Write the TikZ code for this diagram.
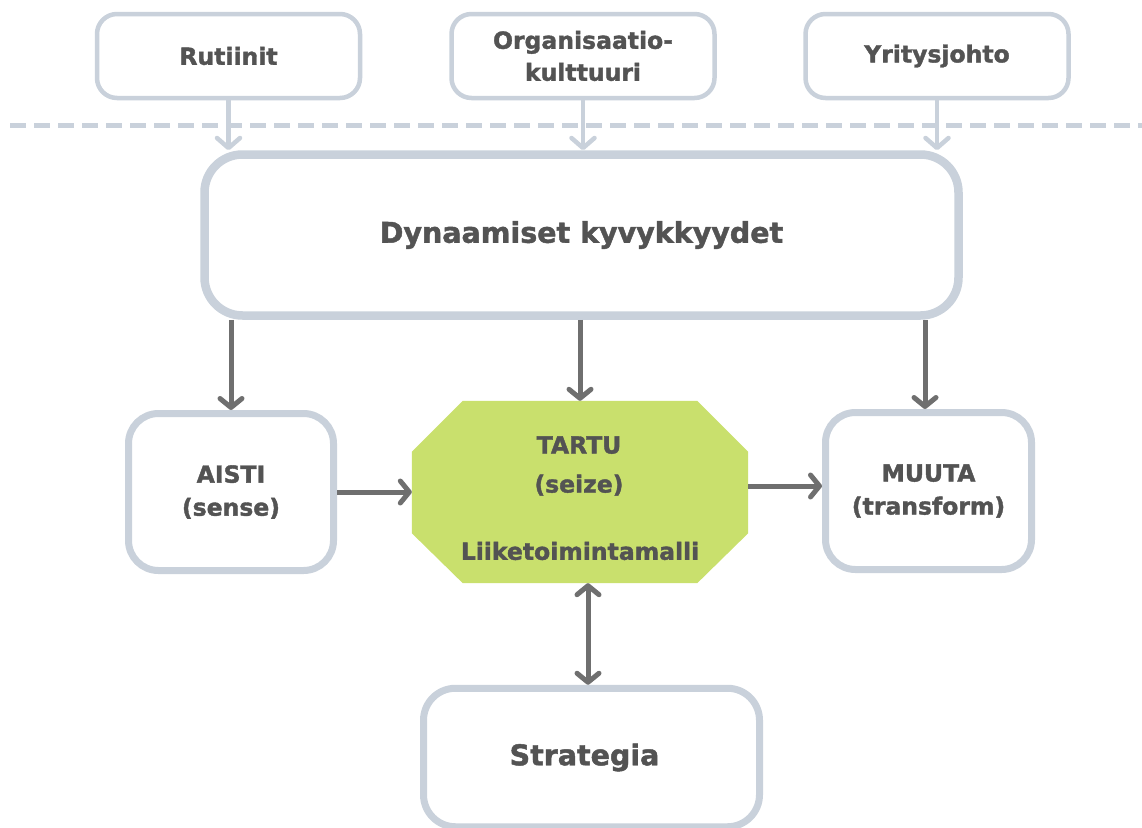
\documentclass[tikz,border=0pt]{standalone}
\usepackage{fontspec}
\setmainfont{DejaVu Sans}[BoldFeatures={FakeBold=1.6}]
\usetikzlibrary{arrows.meta}
\definecolor{boxline}{HTML}{C9D1DB}
\definecolor{arrowgray}{HTML}{6F6F6F}
\definecolor{txtgray}{HTML}{535353}
\definecolor{leaf}{HTML}{C9E06D}
\tikzset{
  topbox/.style={draw=boxline, line width=4.5pt, rounded corners=20pt, minimum width=263pt, minimum height=84pt, inner sep=0pt, align=center, text=txtgray, font=\fontsize{23.5}{32}\selectfont\bfseries},
  midbox/.style={draw=boxline, line width=7pt, rounded corners=30pt, minimum width=205pt, minimum height=157pt, inner sep=0pt, align=center, text=txtgray, font=\fontsize{23.5}{33}\selectfont\bfseries},
  bigbox/.style={draw=boxline, line width=8.5pt, rounded corners=38pt, inner sep=0pt, align=center, text=txtgray, font=\fontsize{28.5}{34}\selectfont\bfseries},
  lbl/.style={text=txtgray, align=center, inner sep=0pt, font=\fontsize{23.5}{39}\selectfont\bfseries},
  lightarrow/.style={draw=boxline, line width=4.5pt, -{Straight Barb[length=10pt,width=23pt,round]}},
  darkarrow/.style={draw=arrowgray, line width=5pt, -{Straight Barb[length=9pt,width=22pt,round]}},
  dblarrow/.style={draw=arrowgray, line width=5pt, {Straight Barb[length=9pt,width=22pt,round]}-{Straight Barb[length=9pt,width=22pt,round]}},
  sepline/.style={draw=boxline, line width=5pt, dash pattern=on 16pt off 8pt}
}
\begin{document}
\begin{tikzpicture}[x=1pt,y=-1pt]
\useasboundingbox[fill=white] (0,0) rectangle (1142,827);
% separator
\coordinate (sepL) at (10,125);
\coordinate (sepR) at (1150,125);
\draw[sepline] (sepL) -- (sepR);
% top boxes
\node[topbox] (rut) at (228.5,56) {Rutiinit};
\node[topbox] (org) at (583,56) {Organisaatio-\\kulttuuri};
\node[topbox] (yri) at (937,56) {Yritysjohto};
% dynamic capabilities
\node[bigbox, minimum width=754pt, minimum height=161pt] (dyn) at (581.5,235) {Dynaamiset kyvykkyydet};
% middle row
\node[midbox] (aisti) at (231,492) {AISTI\\(sense)};
\node[midbox, minimum width=206pt] (muuta) at (928.5,491) {MUUTA\\(transform)};
\node[minimum width=336pt, minimum height=182pt, inner sep=0pt] (oct) at (580,492) {};
\fill[leaf] ([xshift=51pt]oct.north west) -- ([xshift=-51pt]oct.north east)
  -- ([yshift=-51pt]oct.north east) -- ([yshift=50pt]oct.south east)
  -- ([xshift=-51pt]oct.south east) -- ([xshift=51pt]oct.south west)
  -- ([yshift=50pt]oct.south west) -- ([yshift=-51pt]oct.north west) -- cycle;
\node[lbl] (tartu) at (579,466) {TARTU\\(seize)};
\node[lbl] (liike) at (580,551) {Liiketoimintamalli};
% strategy
\node[bigbox, line width=7pt, rounded corners=32pt, minimum width=336pt, minimum height=138.5pt] (strat) at (591.5,757.5) {Strategia\hspace*{14pt}};
% light arrows
\draw[lightarrow] (rut.south) -- (rut.south |- dyn.north);
\draw[lightarrow] (org.south) -- (org.south |- dyn.north);
\draw[lightarrow] (yri.south) -- (yri.south |- dyn.north);
% dark arrows
\draw[darkarrow] (aisti.north |- dyn.south) -- (aisti.north);
\draw[darkarrow] (oct.north |- dyn.south) -- (oct.north);
\draw[darkarrow] ([xshift=-3.5pt]muuta.north |- dyn.south) -- ([xshift=-3.5pt]muuta.north);
\draw[darkarrow] (aisti.east) -- (aisti.east -| oct.west);
\draw[darkarrow] ([yshift=6pt]oct.east) -- ([yshift=6pt]oct.east -| muuta.west);
\draw[dblarrow] ([xshift=-3.5pt]strat.north |- oct.south) -- ([xshift=-3.5pt]strat.north);
\end{tikzpicture}
\end{document}
